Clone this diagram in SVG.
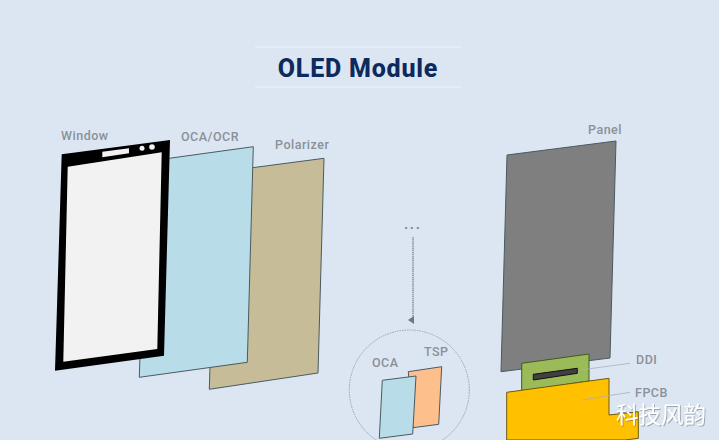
<svg xmlns="http://www.w3.org/2000/svg" width="719" height="440" viewBox="0 0 719 440">
<style>
.lbl{font-family:"Roboto","Liberation Sans",sans-serif;font-size:12.500px;font-weight:500;fill:#8b9099;letter-spacing:.5px}
.edge{stroke:#4a5a60;stroke-width:1}
.rule{stroke:#eef3fa;stroke-width:1}
.lead{stroke:#a9b0b8;stroke-width:.8;fill:none}
</style>
<defs>
<marker id="ah" markerWidth="8" markerHeight="7" refX="4" refY="1" orient="auto-start-reverse" markerUnits="userSpaceOnUse"><path d="M0 0H8L4 6Z" fill="#6f7780"/></marker>
<filter id="wm" x="-10%" y="-10%" width="120%" height="120%"><feDropShadow dx="1" dy="1" stdDeviation=".6" flood-color="#555" flood-opacity=".45"/></filter>
</defs>
<rect width="719" height="440" fill="#dce6f2"/>
<g id="title">
<line class="rule" x1="255" y1="47" x2="461" y2="47"/>
<line class="rule" x1="255" y1="87" x2="461" y2="87"/>
<text x="358" y="77" text-anchor="middle" font-family="Roboto,'Liberation Sans',sans-serif" font-size="25" font-weight="800" letter-spacing=".8" fill="#0d2a5e">OLED Module</text>
</g>
<g id="polarizer">
<path class="edge" d="M216 172.500 324 158.300 318 373 209.300 389.300Z" fill="#c6bd98"/>
<text class="lbl" x="275" y="149">Polarizer</text>
</g>
<g id="oca-ocr">
<path class="edge" d="M146 161.500 253.300 146.700 247.300 362.300 139.300 377.300Z" fill="#b8dde8"/>
<text class="lbl" x="181" y="141">OCA/OCR</text>
</g>
<g id="window">
<path d="M61.700 154.300 170 140 164 355.700 55 370.700Z" fill="#000"/>
<path d="M67.700 166.700 161.700 152.300 157.300 349 63.300 361.700Z" fill="#f2f2f2"/>
<path d="M102.300 151.700 129 148.300V153.300L102.300 157.300Z" fill="#f2f2f2"/>
<circle cx="142" cy="148.300" r="2.500" fill="#f2f2f2"/>
<circle cx="152" cy="147" r="2.800" fill="#f2f2f2"/>
<text class="lbl" x="61" y="140">Window</text>
</g>
<g id="panel">
<path class="edge" d="M507 155 616 141 610 358 501 371.700Z" fill="#7f7f7f"/>
<text class="lbl" x="588" y="134">Panel</text>
</g>
<g id="ddi">
<path d="M521.700 363.300 589 354V381L521.700 391Z" fill="#9bbb59" stroke="#3f5a20" stroke-width="1"/>
<path d="M533.300 374.300 577.300 368.300V373.300L533.300 380Z" fill="#404040" stroke="#111" stroke-width="1"/>
<text class="lbl" x="636" y="364">DDI</text>
</g>
<g id="fpcb">
<path d="M506.700 392.300 609 378.300V415L638.300 411.700V438.300L625 440H506.700Z" fill="#ffc000" stroke="#6b5a10" stroke-width="1"/>
<text class="lbl" x="635" y="397">FPCB</text>
</g>
<g id="detail">
<circle cx="409.300" cy="390" r="60" fill="none" stroke="#9aa2ab" stroke-width="1" stroke-dasharray="1.500 1"/>
<path class="edge" d="M408.300 371.700 441.700 366.700 438.700 424.300 413 427.700Z" fill="#fdbf8c"/>
<path class="edge" d="M382.300 380.300 416 376 412.700 434 379.300 438.300Z" fill="#b8dde8"/>
<text class="lbl" x="372" y="367">OCA</text>
<text class="lbl" x="424" y="356">TSP</text>
</g>
<g id="connectors">
<line x1="413" y1="237" x2="413" y2="320" stroke="#7f8790" stroke-width="1.300" stroke-dasharray="1.500 .6" marker-end="url(#ah)"/>
<path class="lead" d="M630 363.300 580 370"/>
<path class="lead" d="M630 392.300 581.700 400"/>
</g>
<text x="413" y="229" text-anchor="middle" font-family="'Liberation Sans',sans-serif" font-size="13" font-weight="700" letter-spacing="2.200" fill="#7f8790">...</text>
<text x="616" y="423" font-family="'Noto Sans CJK SC',sans-serif" font-size="22.500" fill="#fff" filter="url(#wm)">科技风韵</text>
</svg>
